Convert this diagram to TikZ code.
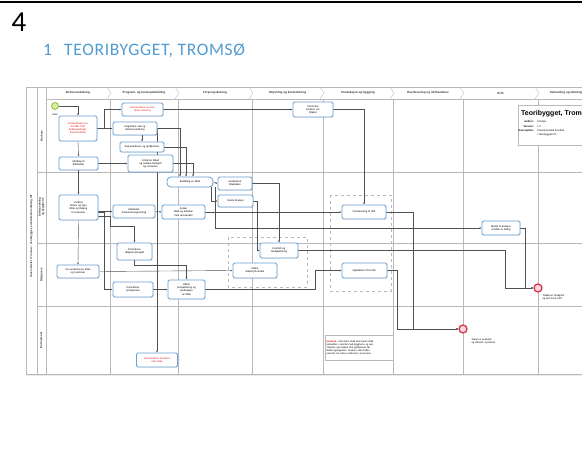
\documentclass[tikz,border=0pt]{standalone}
\usepackage{fontspec}
\setmainfont{Carlito}
\newfontfamily\dfont{Liberation Sans}
\newfontfamily\titlefont[LetterSpace=4]{Carlito}
\usetikzlibrary{arrows.meta,shadows,calc}
\pgfdeclarelayer{bg}
\pgfsetlayers{bg,main}
\definecolor{taskblue}{RGB}{105,160,210}
\definecolor{titleblue}{RGB}{80,155,210}
\definecolor{gridgray}{RGB}{185,185,185}
\definecolor{conn}{RGB}{80,80,80}
\definecolor{redtxt}{RGB}{230,30,30}
\definecolor{startline}{RGB}{140,190,60}
\definecolor{startfill}{RGB}{215,240,165}
\definecolor{endline}{RGB}{215,55,75}
\definecolor{endfill}{RGB}{250,215,220}
\begin{document}
\begin{tikzpicture}[x=1pt,y=-1pt,
  task/.style={draw=taskblue, line width=0.8pt, rounded corners=1.5pt, fill=white, inner sep=0.5pt, align=center,
    font=\dfont\fontsize{2.6}{3.1}\selectfont, drop shadow={opacity=0.18,shadow xshift=0.7pt,shadow yshift=-0.7pt}},
  redtask/.style={task, text=redtxt},
  pilltask/.style={task, rounded corners=4pt},
  flow/.style={draw=conn, line width=0.4pt, -{Latex[length=2pt,width=1.8pt]}},
  gridline/.style={draw=gridgray, line width=0.4pt},
  hdr/.style={font=\dfont\fontsize{3}{3.4}\selectfont\bfseries, text=black!80},
  lanelbl/.style={font=\dfont\fontsize{2.8}{3.3}\selectfont\bfseries, rotate=90, align=center, text=black!80},
  tiny/.style={font=\dfont\fontsize{2.5}{3}\selectfont, align=center},
  startev/.style={circle, draw=startline, fill=startfill, line width=0.8pt, minimum size=7pt, inner sep=0pt},
  endev/.style={circle, draw=endline, fill=endfill, line width=1.3pt, minimum size=8pt, inner sep=0pt}
]
\useasboundingbox (0,0) rectangle (582,449);
% top rule
\draw[line width=2pt] (0,2) -- (582,2);
\node[anchor=base west, font=\fontsize{29}{30}\selectfont, inner sep=0] (num) at (11.5,32) {4};
\node[anchor=base west, font=\titlefont\fontsize{17.5}{20}\selectfont, text=titleblue, inner sep=0] (t1) at (43,56) {1};
\node[anchor=base west, font=\titlefont\fontsize{17.5}{20}\selectfont, text=titleblue, inner sep=0] (t2) at (64,56) {TEORIBYGGET, TROMSØ};

% ===== frame & grid =====
\begin{pgfonlayer}{bg}
\fill[white] (0,0) rectangle (582,449);
\fill[black!8] (27,88) rectangle (592,376);
\fill[white] (26,87) rectangle (590,374);
\draw[gridline] (26,87) rectangle (590,374);
\draw[gridline] (37,87) -- (37,374);
\draw[gridline] (46,87) -- (46,374);
\foreach \yy in {172,243,306} \draw[gridline] (37,\yy) -- (590,\yy);
\draw[gridline] (46,99) -- (590,99);
\foreach \xx in {110,178,252,323,393,463,538} {
  \draw[gridline] (\xx-3,87) -- (\xx+1,93) -- (\xx-3,99);
  \draw[gridline] (\xx,99) -- (\xx,374);
}
% dashed groups
\draw[gridgray, line width=0.5pt, dash pattern=on 3pt off 3pt] (228,237) rectangle (307,287);
\draw[gridgray, line width=0.5pt, dash pattern=on 3pt off 3pt] (330,195) rectangle (391,291);
\end{pgfonlayer}

% headers
\node[hdr] (h1) at (78,93) {Behovsavklaring};
\node[hdr] (h2) at (144,93) {Program- og konseptutvikling};
\node[hdr] (h3) at (215,93) {Forprosjektering};
\node[hdr] (h4) at (287.5,93) {Utlysning og kontrahering};
\node[hdr] (h5) at (358,93) {Produksjon og bygging};
\node[hdr] (h6) at (428,93) {Overlevering og idriftsettelse};
\node[hdr] (h7) at (500.5,93) {Drift};
\node[hdr] (h8) at (566,93) {Avhending og utfasing};

% lane labels
\node[lanelbl] (p0) at (31.5,236) {Universitetet i Tromsø -- Teoribygget, eiendomsforvaltning UiT};
\node[lanelbl] (l1) at (41.5,136) {Brukere};
\node[lanelbl] (l2) at (41.5,207) {Driftsavdeling\\og byggherre};
\node[lanelbl] (l3) at (41.5,275) {Rådgivere};
\node[lanelbl] (l4) at (41.5,340) {Entreprenør};

% ===== lane 1 =====
\node[startev] (start) at (55,106) {};
\node[tiny, anchor=north] (startlbl) at (55,110) {Start};
\node[redtask, minimum width=38pt, minimum height=25pt, text width=35pt] (a1) at (78,128.5) {Kunde/bruker tar\\kontakt med\\driftsavdelingen\\(henvendelse)};
\node[task, minimum width=39pt, minimum height=13pt, text width=36pt] (a2) at (78.5,163.5) {Melding til\\driftsleder};
\node[redtask, minimum width=41pt, minimum height=13pt, text width=38pt] (b1) at (142.5,109.5) {Henvendelse avvises\\(ikke relevant)};
\node[task, minimum width=44pt, minimum height=13pt, text width=41pt] (b2) at (135,128.5) {Registrere sak og\\behovsvurdering};
\node[task, minimum width=44pt, minimum height=10pt, text width=41pt] (b3) at (142,147) {Sak prioriteres og godkjennes};
\node[task, minimum width=45pt, minimum height=17pt, text width=42pt] (b4) at (150.5,163.5) {Innhente tilbud\\og avklare budsjett\\og ressurser};
\node[task, minimum width=40pt, minimum height=15pt, text width=37pt] (d1) at (313,109.5) {Informere\\brukere om\\tiltaket};

% legend
\node[draw=gridgray, fill=white, line width=0.5pt, minimum width=80pt, minimum height=40pt, anchor=north west, inner sep=0,
  drop shadow={opacity=0.25,shadow xshift=1pt,shadow yshift=-1pt}] (leg) at (518,105) {};
\node[anchor=base west, font=\dfont\fontsize{7}{8}\selectfont\bfseries, inner sep=0] (legt) at (521,116) {Teoribygget, Tromsø};
\node[anchor=base east, font=\dfont\fontsize{2.6}{3}\selectfont\bfseries, inner sep=0] (lk1) at (534,123) {Author:};
\node[anchor=base east, font=\dfont\fontsize{2.6}{3}\selectfont\bfseries, inner sep=0] (lk2) at (534,127.5) {Version:};
\node[anchor=base east, font=\dfont\fontsize{2.6}{3}\selectfont\bfseries, inner sep=0] (lk3) at (534,132) {Description:};
\node[anchor=base west, font=\dfont\fontsize{2.6}{3}\selectfont, inner sep=0] (lv1) at (537,123) {Cristoja};
\node[anchor=base west, font=\dfont\fontsize{2.6}{3}\selectfont, inner sep=0] (lv2) at (537,127.5) {1.0};
\node[anchor=north west, font=\dfont\fontsize{2.6}{3.4}\selectfont, inner sep=0, align=left] (lv3) at (537,129.8) {Prosessmodell for tiltak\\i Teoribygget UiT};

% ===== lane 2 =====
\node[task, minimum width=39pt, minimum height=25pt, text width=36pt] (a3) at (78.5,207.5) {Vurdere\\behov og type\\tiltak og tilgang\\til ressurser};
\node[pilltask, minimum width=46pt, minimum height=10pt, text width=42pt] (bp) at (190,182) {Bestilling av tiltak};
\node[task, minimum width=34pt, minimum height=13pt, text width=31pt] (c1) at (235,183.5) {Godkjenne\\tiltaksplan};
\node[task, minimum width=35pt, minimum height=12pt, text width=32pt] (c2) at (235.5,201) {Varsle brukere};
\node[task, minimum width=42pt, minimum height=13pt, text width=39pt] (b5) at (134,211.5) {Utarbeide\\konkurransegrunnlag};
\node[task, minimum width=43pt, minimum height=14pt, text width=40pt] (b6) at (183.5,212) {Avtale\\tiltak og tidsplan\\med leverandør};
\node[task, minimum width=44pt, minimum height=14pt, text width=41pt] (e1) at (364,212) {Overlevering til drift};
\node[task, minimum width=38pt, minimum height=14pt, text width=35pt] (g1) at (501,228) {Melde til brukere\\at tiltak er ferdig};

% ===== lane 3 =====
\node[task, minimum width=35pt, minimum height=17pt, text width=32pt] (b7) at (134.5,251.5) {Kontrahere\\rådgiver/prosjekt};
\node[task, minimum width=42pt, minimum height=13pt, text width=39pt] (a4) at (78,271.5) {Ny vurdering av tiltak\\og ressurser};
\node[task, minimum width=40pt, minimum height=15pt, text width=37pt] (b8) at (133,289.5) {Kontrahere\\entreprenør};
\node[task, minimum width=37pt, minimum height=19pt, text width=34pt] (b9) at (186.5,289.5) {Utføre\\prosjektering og\\produksjon\\av tiltak};
\node[task, minimum width=38pt, minimum height=15pt, text width=35pt] (d2) at (279,250.5) {Kontroll og\\ferdigbefaring};
\node[task, minimum width=44pt, minimum height=15pt, text width=41pt] (c3) at (255,270.5) {Utføre\\arbeid på stedet};
\node[task, minimum width=45pt, minimum height=15pt, text width=42pt] (e2) at (364.5,270.5) {Oppdatere FDV-dok.};
\node[endev] (end1) at (538,288) {};
\node[tiny, anchor=north west, align=left] (end1lbl) at (539,291.5) {Tiltaket er ferdigstilt\\og tatt i bruk (UiT)};

% ===== lane 4 =====
\node[redtask, minimum width=41pt, minimum height=14pt, text width=38pt] (b10) at (157,360) {Henvendelse avsluttes\\uten tiltak};
\node[endev] (end2) at (463,329) {};
\node[tiny, anchor=north west, align=left] (end2lbl) at (468,335) {Saken er avsluttet\\og arkivert i systemet};
\node[draw=gridgray, fill=white, line width=0.5pt, minimum width=68pt, minimum height=25pt, text width=65pt, inner sep=1pt,
  align=left, font=\dfont\fontsize{2.4}{3}\selectfont, drop shadow={opacity=0.2,shadow xshift=0.8pt,shadow yshift=-0.8pt}] (note) at (359,347.5)
  {\textcolor{redtxt}{\bfseries Merknad:} Ved større tiltak skal saken alltid\\behandles i samråd med byggherre og eier.\\Tidsplan og budsjett skal godkjennes før\\tiltaket igangsettes. Brukere skal holdes\\orientert om status underveis i prosessen.};

% ===== connectors =====
\begin{pgfonlayer}{bg}
\draw[flow] (start.east) -| (a1.north);
\draw[flow] (a1.south) -- (a2.north);
\draw[flow] (a1.east) -- (b2.west);
\draw[flow] (a1.east) -- ++(7,0) |- (b1.west);
\draw[flow] (b3.north |- b2.south) -- (b3.north);
\draw[flow] (a2.east) -- (b4.west);
\draw[flow] (b1.east) -- (d1.west);
\draw[flow] (d1.east) -| (e1.north);
\draw[flow] (b2.east) -| ([xshift=-10pt]bp.north);
\draw[flow] (b3.east) -| ([xshift=-4pt]bp.north);
\draw[flow] (b4.east) -| ([xshift=3pt]bp.north);
\draw[flow] (b2.east) -| (b10.north);
\draw[flow] (a2.south) -- (a3.north);
\draw[flow] (a3.east |- b5.west) -- (b5.west);
\draw[flow] (b5.east) -- (b6.west);
\draw[flow] (b6.east) -- (e1.west);
\draw[flow] (bp.east) -- (c1.west);
\draw[flow] ([xshift=-2pt]bp.south east) |- (c2.west);
\draw[flow] ([xshift=2pt]bp.south east) |- (g1.west);
\draw[flow] (c1.east) -| (d2.north);
\draw[flow] (c2.east) -- ++(4,0) |- (d2.west);
\draw[flow] (a3.south) -- (a4.north);
\draw[flow] (a4.east) -- (c3.west);
\draw[flow] ([yshift=-5pt]a3.east) -- ++(6,0) |- (b8.west);
\draw[flow] ([yshift=-9pt]a3.east) -- ++(12,0) |- ++(11,10) -| (b7.north);
\draw[flow] (b7.south) -- ++(0,5) -| (b9.north);
\draw[flow] (b8.east) -- (b9.west);
\draw[flow] (b9.east) -- ++(110,0) |- (e2.west);
\draw[flow] (d2.east) -- ++(207,0) |- (end1.west);
\draw[flow] (g1.east) -- ++(5,0) |- (end1.west);
\draw[flow] (e1.east) -- ++(27,0) |- (end2.west);
\draw[flow] (e2.east) -- ++(10,0) |- (end2.west);
\end{pgfonlayer}
\end{tikzpicture}
\end{document}
